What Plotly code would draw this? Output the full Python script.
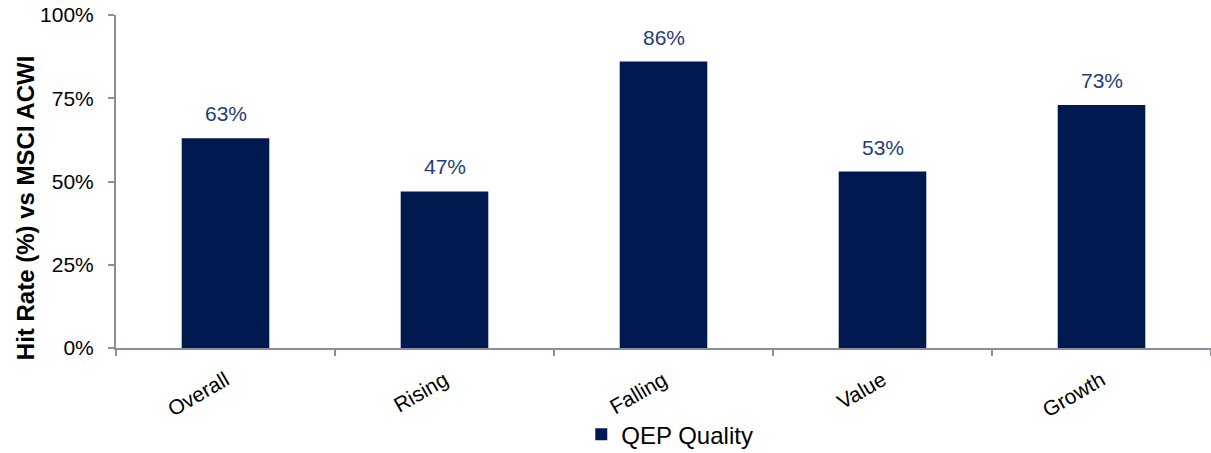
import plotly.graph_objects as go

categories = ["Overall", "Rising", "Falling", "Value", "Growth"]
hit_rate = [63, 47, 86, 53, 73]
series_name = "QEP Quality"
y_ticks = [0, 25, 50, 75, 100]
y_tick_labels = ["0%", "25%", "50%", "75%", "100%"]
y_title = "Hit Rate (%) vs MSCI ACWI"

BAR = "#001a4f"
LABEL = "#1f3d78"
AXIS = "#8b8e9e"
FONT = "Liberation Sans, Arial, sans-serif"

fig = go.Figure()
fig.add_trace(go.Bar(
    x=categories, y=hit_rate, name=series_name,
    marker=dict(color=BAR, line=dict(width=0)),
    width=0.4, showlegend=True,
))

# value labels above each bar
for c, v in zip(categories, hit_rate):
    fig.add_annotation(x=c, y=v, text=f"{v}%", showarrow=False,
                       yanchor="bottom", yshift=11,
                       font=dict(family=FONT, size=21, color=LABEL))

# rotated axis title, centred slightly below the plot middle
fig.add_annotation(xref="paper", yref="paper", x=0, y=0.42, xshift=-91,
                   text=f"<b>{y_title}</b>", textangle=-90, showarrow=False,
                   xanchor="center", yanchor="middle",
                   font=dict(family=FONT, size=24, color="#000000"))

fig.update_layout(
    width=1211, height=453,
    margin=dict(l=116, r=0, t=15, b=105, autoexpand=False),
    plot_bgcolor="white", paper_bgcolor="white",
    font=dict(family=FONT, color="#000000"),
    showlegend=True,
    legend=dict(orientation="h", xref="container", yref="container",
                x=0.48, xanchor="left", y=0.09, yanchor="top",
                bgcolor="rgba(0,0,0,0)",
                font=dict(family=FONT, size=24, color="#000000"),
                itemwidth=30, traceorder="normal"),
    xaxis=dict(
        type="category", range=[-0.5, 4.5], automargin=False,
        showline=True, linecolor=AXIS, linewidth=2,
        ticks="outside", ticklen=6, tickcolor=AXIS, tickwidth=2,
        tickson="boundaries", tickangle=-30, ticklabelstandoff=10,
        tickfont=dict(family=FONT, size=21, color="#000000"),
        showgrid=False, zeroline=False,
    ),
    yaxis=dict(
        range=[0, 100], tickvals=y_ticks, ticktext=y_tick_labels, automargin=False,
        showline=True, linecolor=AXIS, linewidth=2,
        ticks="outside", ticklen=6, tickcolor=AXIS, tickwidth=2,
        ticklabelstandoff=10,
        tickfont=dict(family=FONT, size=21, color="#000000"),
        showgrid=False, zeroline=False,
    ),
)

fig.write_html("out.html")
